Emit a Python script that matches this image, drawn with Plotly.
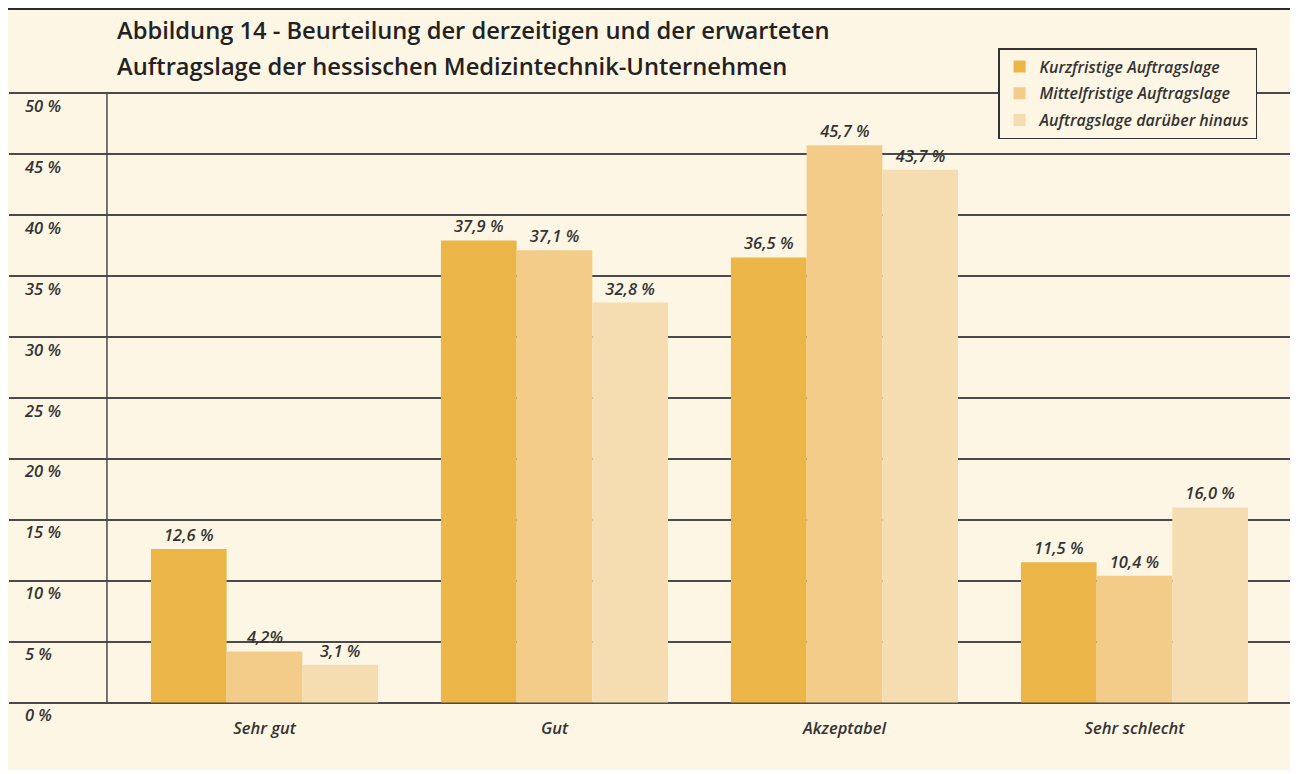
import plotly.graph_objects as go

categories = ["Sehr gut", "Gut", "Akzeptabel", "Sehr schlecht"]
series_names = ["Kurzfristige Auftragslage", "Mittelfristige Auftragslage", "Auftragslage darüber hinaus"]
kurz = [12.6, 37.9, 36.5, 11.5]
mittel = [4.2, 37.1, 45.7, 10.4]
lang = [3.1, 32.8, 43.7, 16.0]
kurz_text = ["12,6 %", "37,9 %", "36,5 %", "11,5 %"]
mittel_text = ["4,2%", "37,1 %", "45,7 %", "10,4 %"]
lang_text = ["3,1 %", "32,8 %", "43,7 %", "16,0 %"]
y_ticks = [0, 5, 10, 15, 20, 25, 30, 35, 40, 45, 50]
y_ticktext = [f"{v} %" for v in y_ticks]

colors = ["#EBB548", "#F2CC88", "#F5DDB1"]
cream = "#FDF6E4"
txt = "#333333"
font_fam = "'Open Sans', 'Noto Sans', sans-serif"
lab_font = dict(family=font_fam, size=16.5, color=txt, style="italic", weight=600)
leg_font = dict(family=font_fam, size=16, color=txt, style="italic", weight=600)

fig = go.Figure()
for i, (name, vals, labels) in enumerate(zip(series_names, [kurz, mittel, lang],
                                              [kurz_text, mittel_text, lang_text])):
    fig.add_trace(go.Bar(
        x=categories, y=vals, name=name, text=labels,
        textposition="outside", cliponaxis=False,
        textfont=lab_font,
        marker=dict(color=colors[i], line=dict(width=0)),
        legendgroup=f"g{i}",
    ))

fig.update_layout(
    width=1290, height=766,
    margin=dict(l=1, r=0, t=83, b=47),
    paper_bgcolor=cream, plot_bgcolor="rgba(0,0,0,0)",
    barmode="group", bargap=0.217, bargroupgap=0,
    font=dict(family=font_fam, color=txt),
    showlegend=True,
    legend=dict(
        x=0.7673, y=1.0676, xanchor="left", yanchor="top",
        bgcolor=cream, bordercolor="#333333", borderwidth=1.5,
        font=leg_font,
        traceorder="grouped", tracegroupgap=3,
    ),
    xaxis=dict(
        range=[-0.881, 3.564], showgrid=False, zeroline=False, showline=False,
        ticks="", ticklabelstandoff=-11,
        tickfont=lab_font,
    ),
    yaxis=dict(
        range=[-2.0, 50.15], tickvals=y_ticks, ticktext=y_ticktext,
        showgrid=True, gridcolor="#4a4a4a", gridwidth=1.5, zeroline=False,
        showline=False, ticks="", ticklabelposition="inside",
        ticklabelstandoff=13, ticklabelshift=13,
        tickfont=lab_font,
    ),
    shapes=[
        # vertical axis line
        dict(type="line", xref="paper", yref="y", x0=0.0760, x1=0.0760, y0=0, y1=50,
             line=dict(color="#4a4a4a", width=1.5), layer="below"),
        # white bottom strip of the page
        dict(type="rect", xref="paper", yref="paper", x0=-0.01, x1=1.0, y0=-0.2, y1=-0.0676,
             fillcolor="white", line=dict(width=0), layer="below"),
        # dark rule at the top
        dict(type="line", xref="paper", yref="paper", x0=-0.01, x1=1.0, y0=1.1297, y1=1.1297,
             line=dict(color="#2a2a2a", width=3), layer="below"),
    ],
    annotations=[
        dict(text="Abbildung 14 - Beurteilung der derzeitigen und der erwarteten",
             xref="paper", yref="paper", x=0.0822, y=1.0959, xanchor="left", yanchor="middle",
             showarrow=False, font=dict(family="'Open Sans', sans-serif", size=23.7, color="#222222", weight=600)),
        dict(text="Auftragslage der hessischen Medizintechnik-Unternehmen",
             xref="paper", yref="paper", x=0.0822, y=1.0393, xanchor="left", yanchor="middle",
             showarrow=False, font=dict(family="'Open Sans', sans-serif", size=23.7, color="#222222", weight=600)),
    ],
)

fig.write_html("out.html")
